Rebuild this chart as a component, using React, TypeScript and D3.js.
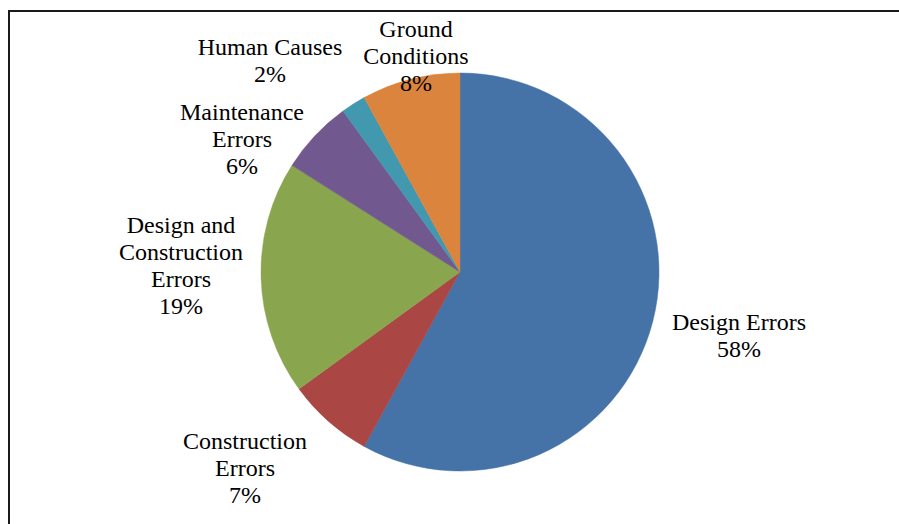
import React from "react";
import * as d3 from "d3";

// Causes of failure and their share of cases (percent), clockwise from 12 o'clock
const categories = [
  "Design Errors",
  "Construction Errors",
  "Design and Construction Errors",
  "Maintenance Errors",
  "Human Causes",
  "Ground Conditions",
];
const shares = [58, 7, 19, 6, 2, 8];
const colors = ["#4572A7", "#AA4643", "#89A54E", "#71588F", "#4198AF", "#DB843D"];

// Label text broken into lines, with its anchor point (center x, first baseline y)
const labelLines = [
  ["Design Errors"],
  ["Construction", "Errors"],
  ["Design and", "Construction", "Errors"],
  ["Maintenance", "Errors"],
  ["Human Causes"],
  ["Ground", "Conditions"],
];
const labelAnchors: [number, number][] = [
  [739, 330],
  [245, 449],
  [181, 233],
  [242, 120],
  [270, 55],
  [416, 37],
];

const W = 899;
const H = 524;
const cx = 460;
const cy = 272;
const radius = 199;
const fontSize = 24;
const lineHeight = 27;
const serif = '"Liberation Serif"';

export default function App() {
  const data = categories.map((name, i) => ({ name, value: shares[i], i }));
  const pie = d3
    .pie<{ name: string; value: number; i: number }>()
    .value((d) => d.value)
    .sort(null)
    .startAngle(0)
    .endAngle(2 * Math.PI);
  const arcs = pie(data);
  const arc = d3
    .arc<d3.PieArcDatum<{ name: string; value: number; i: number }>>()
    .innerRadius(0)
    .outerRadius(radius);

  return (
    <svg width={W} height={H} style={{ position: "absolute", left: 0, top: 0, background: "#fff" }}>
      <rect x={0} y={0} width={W} height={H} fill="#fff" />
      <rect x={9} y={11} width={W + 20} height={H + 20} fill="none" stroke="#1a1a1a" strokeWidth={2} />
      <g transform={`translate(${cx},${cy})`}>
        {arcs.map((a) => (
          <path
            key={a.data.name}
            d={arc(a) || ""}
            fill={colors[a.data.i]}
            stroke={colors[a.data.i]}
            strokeWidth={0.5}
          />
        ))}
      </g>
      {arcs.map((a) => {
        const i = a.data.i;
        const [lx, ly] = labelAnchors[i];
        const lines = [...labelLines[i], `${shares[i]}%`];
        return (
          <text
            key={`lbl-${i}`}
            x={lx}
            y={ly}
            textAnchor="middle"
            fontSize={fontSize}
            fill="#000"
            style={{ fontFamily: serif }}
          >
            {lines.map((t, k) => (
              <tspan key={k} x={lx} dy={k === 0 ? 0 : lineHeight}>
                {t}
              </tspan>
            ))}
          </text>
        );
      })}
    </svg>
  );
}
